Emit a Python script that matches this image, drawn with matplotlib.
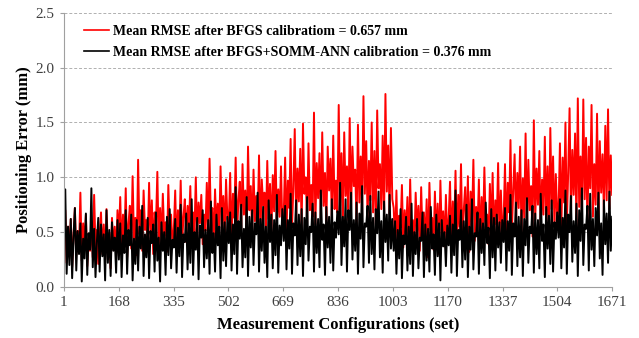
import numpy as np
import matplotlib.pyplot as plt

plt.rcParams['font.family'] = ['Liberation Serif', 'DejaVu Serif']

# positioning error per configuration (hundredths of mm)
# in 10 blocks of 167 configurations each
red_blocks = [
    "38 70 22 55 31 62 18 47 72 29 51 35 86 24 58 40 66 19 45 33 60 27 84 36 52 21 48 68 30 57 25 71 39 49 17 63 34 55 28 70",
    "45 82 31 66 40 90 27 58 74 35 101 42 63 29 116 48 70 33 88 52 61 38 95 44 79 30 68 56 105 36 72 41 85 47 59 32 93 50 66 39",
    "52 88 34 70 46 97 38 64 80 41 74 55 92 36 68 49 100 43 77 58 84 39 66 51 95 45 117 60 72 40 89 53 76 47 110 57 83 44 98 62",
    "58 104 41 85 63 118 47 79 96 52 112 66 88 44 128 70 92 49 107 60 83 55 120 46 98 74 86 51 115 62 94 48 102 69 124 57 89 64 110 53",
    "66 118 50 97 72 135 55 90 144 61 108 78 126 52 149 85 100 58 131 70 93 64 159 57 113 81 122 60 141 74 104 56 128 88 117 63 138 71 97 68",
    "166 74 122 58 141 83 110 61 154 70 128 92 107 56 148 77 119 64 174 85 133 62 115 79 150 68 124 57 161 90 112 71 138 63 176 87 129 66 145 80",
    "72 40 88 31 65 54 93 36 70 47 82 29 98 43 61 35 86 50 74 33 91 45 68 38 80 27 95 52 63 34 87 42 76 30 97 48 69 37 84 41",
    "62 96 38 78 47 106 35 84 55 112 40 70 91 44 101 32 87 58 116 42 73 50 98 37 82 46 109 54 66 39 94 48 104 36 79 57 113 43 88 51",
    "60 112 45 95 68 134 50 88 121 56 104 72 128 48 99 63 140 53 116 70 92 46 152 61 108 75 124 52 98 66 137 58 110 49 145 71 119 55 103 64",
    "70 131 52 118 77 150 58 104 163 66 125 84 140 55 172 73 119 62 171 80 136 57 128 90 166 64 112 75 158 60 133 86 121 68 147 79 162 71 120 84",
]
black_blocks = [
    "40 89 12 55 20 62 08 46 72 15 51 30 58 05 44 26 67 11 49 34 90 18 53 09 41 63 14 57 28 48 06 70 22 52 10 59 33 45 13 61",
    "25 58 09 47 31 70 12 52 38 66 06 44 21 61 15 55 35 74 10 48 27 63 08 51 40 57 14 68 24 45 05 59 33 50 11 64 29 71 17 43",
    "36 62 13 54 28 75 09 48 41 67 16 58 22 80 11 50 34 63 07 56 45 70 18 52 26 61 12 78 31 49 14 66 38 55 08 72 24 59 19 64",
    "40 68 15 57 30 91 12 60 44 75 18 53 27 82 10 64 36 70 20 58 48 86 14 62 33 73 22 55 09 79 41 66 17 61 29 84 13 56 38 71",
    "42 74 16 61 35 85 12 58 47 79 20 66 28 71 10 63 39 82 24 55 50 76 14 68 31 62 18 88 43 57 11 73 36 64 22 80 15 59 45 69",
    "48 95 20 64 37 80 14 70 52 86 25 61 33 77 12 67 44 92 18 58 55 74 22 83 30 63 16 71 49 87 27 60 13 78 41 66 24 84 35 62",
    "33 60 12 52 26 71 08 47 39 64 15 55 21 76 10 50 30 62 17 45 42 68 09 57 24 53 14 73 35 48 11 66 28 58 06 61 37 50 19 56",
    "38 65 13 57 29 88 10 52 43 70 18 60 25 75 09 55 34 80 16 49 46 68 12 62 31 58 20 77 40 54 08 71 27 63 15 66 36 59 22 61",
    "41 72 15 60 33 84 11 58 46 77 19 64 27 70 10 62 38 81 22 55 49 74 13 67 30 61 17 85 42 57 09 73 35 65 21 79 14 59 44 68",
    "45 80 17 63 36 88 12 66 50 83 23 60 31 76 10 70 42 90 20 57 53 74 15 85 34 62 19 72 47 86 26 58 11 79 39 67 22 87 33 64",
]

bfgs = np.array([int(v) for b in red_blocks for v in b.split()]) / 100
ann = np.array([int(v) for b in black_blocks for v in b.split()]) / 100
config = np.linspace(1, 1671, len(bfgs))

xticks = [1, 168, 335, 502, 669, 836, 1003, 1170, 1337, 1504, 1671]
yticks = [0.0, 0.5, 1.0, 1.5, 2.0, 2.5]

fig = plt.figure(figsize=(6.39, 3.38), dpi=100)
ax = fig.add_axes([0.100, 0.151, 0.858, 0.811])

ax.plot(config, bfgs, color='#ff0000', lw=1.4,
        label='Mean RMSE after BFGS calibratiom = 0.657 mm')
ax.plot(config, ann, color='black', lw=1.4,
        label='Mean RMSE after BFGS+SOMM-ANN calibration = 0.376 mm')

ax.set_xlim(1, 1671)
ax.set_ylim(0, 2.5)
ax.set_xticks(xticks)
ax.set_yticks(yticks)
ax.set_yticklabels(['%.1f' % v for v in yticks])
ax.grid(axis='y', color='#b0b0b0', ls=(0, (3, 2)), lw=0.7)
ax.set_axisbelow(True)

for s in ['top', 'right']:
    ax.spines[s].set_visible(False)
for s in ['left', 'bottom']:
    ax.spines[s].set_color('#a0a0a0')
ax.tick_params(colors='#a0a0a0', labelcolor='#404040', labelsize=11, length=3)

ax.set_xlabel('Measurement Configurations (set)', fontsize=12, fontweight='bold', labelpad=6)
ax.set_ylabel('Positioning Error (mm)', fontsize=12, fontweight='bold', labelpad=3)

leg = ax.legend(loc='upper left', bbox_to_anchor=(0.014, 1.0), frameon=False,
                prop={'weight': 'bold', 'size': 10}, handlelength=1.8,
                handletextpad=0.25, labelspacing=0.55)
for h in leg.get_lines():
    h.set_linewidth(1.2)

fig.savefig('out.png', dpi=100)
